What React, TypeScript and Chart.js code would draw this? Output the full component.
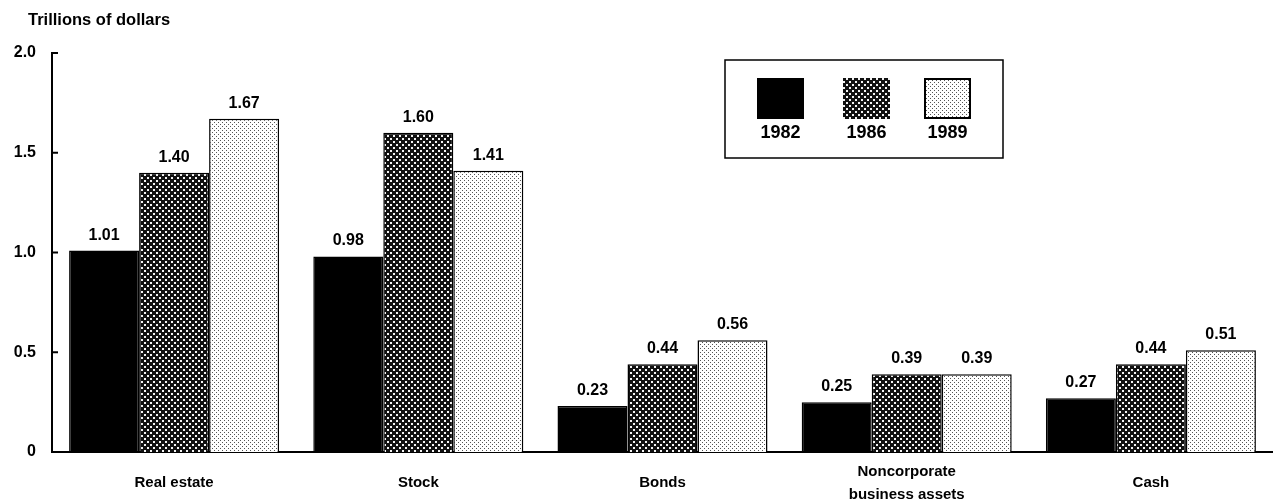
import React, { useEffect, useRef } from "react";
import { Chart, registerables } from "chart.js";
Chart.register(...registerables);

const categories: (string | string[])[] = ["Real estate", "Stock", "Bonds", ["Noncorporate", "business assets"], "Cash"];
const years = ["1982", "1986", "1989"];
const values1982 = [1.01, 0.98, 0.23, 0.25, 0.27];
const values1986 = [1.4, 1.6, 0.44, 0.39, 0.44];
const values1989 = [1.67, 1.41, 0.56, 0.39, 0.51];
const yTicks = [0, 0.5, 1.0, 1.5, 2.0];
const yAxisTitle = "Trillions of dollars";

const FONT = "'Liberation Sans', Arial, Helvetica, sans-serif";

function makePattern(kind: "dark" | "light"): CanvasPattern | string {
  const c = document.createElement("canvas");
  const g = c.getContext("2d");
  if (!g) return kind === "dark" ? "#444" : "#ddd";
  if (kind === "dark") {
    c.width = 6;
    c.height = 6;
    g.fillStyle = "#111";
    g.fillRect(0, 0, 6, 6);
    g.fillStyle = "#f4f4f4";
    g.fillRect(0, 0, 2, 2);
    g.fillRect(3, 3, 2, 2);
  } else {
    c.width = 4;
    c.height = 4;
    g.fillStyle = "#ffffff";
    g.fillRect(0, 0, 4, 4);
    g.fillStyle = "#555";
    g.fillRect(0, 0, 1, 1);
    g.fillRect(2, 2, 1, 1);
  }
  return g.createPattern(c, "repeat") || (kind === "dark" ? "#444" : "#ddd");
}

export default function App() {
  const ref = useRef<HTMLCanvasElement | null>(null);

  useEffect(() => {
    const canvas = ref.current;
    if (!canvas) return;
    const dark = makePattern("dark");
    const light = makePattern("light");
    const fills: (string | CanvasPattern)[] = ["#000000", dark, light];
    const series = [values1982, values1986, values1989];

    const labelsPlugin = {
      id: "customDraw",
      afterDatasetsDraw(chart: any) {
        const ctx = chart.ctx as CanvasRenderingContext2D;
        ctx.save();
        // value labels
        ctx.fillStyle = "#000";
        ctx.font = `bold 16px ${FONT}`;
        ctx.textAlign = "center";
        ctx.textBaseline = "alphabetic";
        chart.data.datasets.forEach((ds: any, di: number) => {
          const meta = chart.getDatasetMeta(di);
          meta.data.forEach((el: any, i: number) => {
            const v = ds.data[i] as number;
            ctx.fillText(v.toFixed(2), el.x, el.y - 11);
          });
        });
        // inner y ticks
        const ys = chart.scales.y;
        ctx.strokeStyle = "#000";
        ctx.lineWidth = 2;
        yTicks.forEach((v) => {
          const py = ys.getPixelForValue(v);
          ctx.beginPath();
          ctx.moveTo(ys.right, py);
          ctx.lineTo(ys.right + 6, py);
          ctx.stroke();
        });
        // title
        ctx.font = `bold 16.5px ${FONT}`;
        ctx.textAlign = "left";
        ctx.fillText(yAxisTitle, 28, 25);
        // legend
        const bx = 725, by = 60, bw = 278, bh = 98;
        ctx.lineWidth = 1.5;
        ctx.strokeRect(bx, by, bw, bh);
        const swX = [757, 843, 924];
        ctx.font = `bold 18px ${FONT}`;
        ctx.textAlign = "center";
        years.forEach((yr, i) => {
          const sx = swX[i], sy = 78, sw = 47, sh = 41;
          ctx.fillStyle = fills[i] as any;
          ctx.fillRect(sx, sy, sw, sh);
          if (i === 2) {
            ctx.lineWidth = 2;
            ctx.strokeStyle = "#000";
            ctx.strokeRect(sx + 1, sy + 1, sw - 2, sh - 2);
          }
          ctx.fillStyle = "#000";
          ctx.fillText(yr, sx + sw / 2, 138);
        });
        ctx.restore();
      },
    };

    const chart = new Chart(canvas, {
      type: "bar",
      data: {
        labels: categories as any,
        datasets: years.map((yr, i) => ({
          label: yr,
          data: series[i],
          backgroundColor: fills[i] as any,
          borderColor: "#000",
          borderWidth: 1.5,
          borderSkipped: "bottom" as any,
          categoryPercentage: 0.86,
          barPercentage: 1.0,
        })),
      },
      options: {
        responsive: false,
        animation: false,
        devicePixelRatio: 1,
        layout: { padding: { top: 53, right: 0, left: 0, bottom: 0 } },
        plugins: { legend: { display: false }, tooltip: { enabled: false }, title: { display: false } },
        scales: {
          x: {
            grid: { display: false, drawTicks: false },
            border: { display: true, color: "#000", width: 2 },
            ticks: {
              color: "#000",
              font: { family: FONT, size: 15, weight: "bold", lineHeight: 1.5 },
              padding: 20,
              maxRotation: 0,
              autoSkip: false,
              crossAlign: "center",
            },
            afterFit: (s: any) => {
              s.height = 51;
            },
          },
          y: {
            min: 0,
            max: 2.0,
            grid: { display: false, drawTicks: false },
            border: { display: true, color: "#000", width: 2 },
            afterBuildTicks: (s: any) => {
              s.ticks = yTicks.map((v) => ({ value: v }));
            },
            ticks: {
              color: "#000",
              font: { family: FONT, size: 16, weight: "bold" },
              padding: 16,
              callback: (v: any) => (Number(v) === 0 ? "0" : Number(v).toFixed(1)),
            },
            afterFit: (s: any) => {
              s.width = 52;
            },
          },
        },
      },
      plugins: [labelsPlugin],
    });
    return () => chart.destroy();
  }, []);

  return (
    <div style={{ position: "absolute", left: 0, top: 0, width: 1273, height: 503, background: "#fff" }}>
      <canvas ref={ref} width={1273} height={503} style={{ display: "block" }} />
    </div>
  );
}
